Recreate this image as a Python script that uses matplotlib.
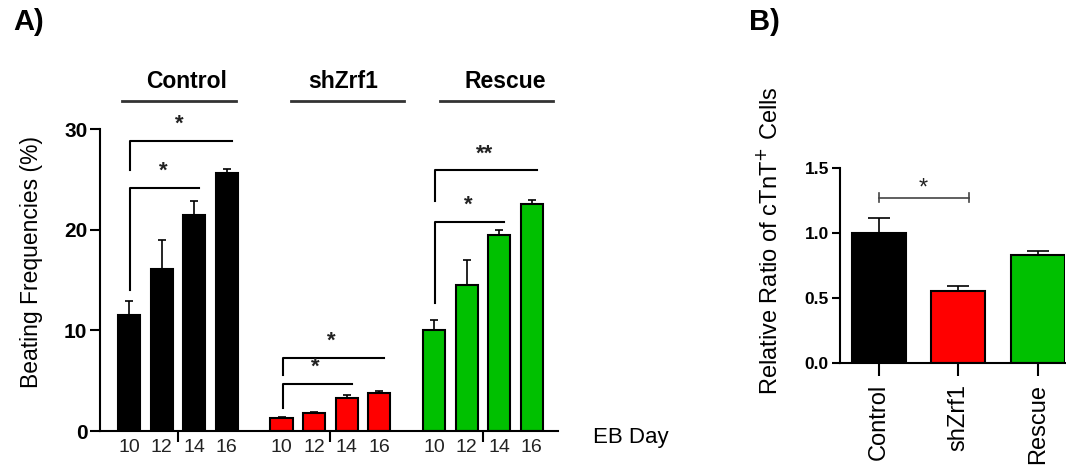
import numpy as np
import matplotlib
matplotlib.use('Agg')
import matplotlib.pyplot as plt

plt.rcParams['font.family'] = ['Liberation Sans', 'DejaVu Sans']

# beating frequencies by EB day, per group
groups = ['Control', 'shZrf1', 'Rescue']
days = ['10', '12', '14', '16']
beating = {
    'Control': [11.5, 16.1, 21.5, 25.6],
    'shZrf1': [1.3, 1.8, 3.3, 3.8],
    'Rescue': [10.0, 14.5, 19.5, 22.6],
}
beating_err = {
    'Control': [1.4, 2.9, 1.4, 0.4],
    'shZrf1': [0.1, 0.1, 0.3, 0.2],
    'Rescue': [1.0, 2.5, 0.5, 0.4],
}
# significance brackets: (group, bar_from, bar_to, height, drop_to, label)
brackets_a = [
    ('Control', 0, 3, 28.8, 25.9, '*'),
    ('Control', 0, 2, 24.2, 14.0, '*'),
    ('shZrf1', 0, 3, 7.25, 5.6, '*'),
    ('shZrf1', 0, 2, 4.7, 2.3, '*'),
    ('Rescue', 0, 3, 25.9, 22.9, '**'),
    ('Rescue', 0, 2, 20.8, 12.7, '*'),
]

# relative cTnT+ ratio
ratio = [1.0, 0.55, 0.83]
ratio_err = [0.115, 0.045, 0.03]

colors = {'Control': 'black', 'shZrf1': '#ff0000', 'Rescue': '#00c000'}
# header label x and underline span, in bar units from the group's first bar
header_pos = {
    'Control': (1.78, -0.22, 3.28),
    'shZrf1': (1.9, 0.28, 3.75),
    'Rescue': (2.18, 0.18, 3.66),
}

fig = plt.figure(figsize=(10.66, 4.68), dpi=100)

# ---- panel A ----
ax = fig.add_axes([0.0938, 0.079, 0.4296, 0.645])
gap = 4.68
width = 0.68
centers = []
for gi, g in enumerate(groups):
    xs = np.arange(4) + gi * gap
    ax.bar(xs, beating[g], width, color=colors[g], edgecolor='black',
           linewidth=1.5, zorder=2)
    ax.errorbar(xs, beating[g], yerr=[np.zeros(4), beating_err[g]],
                fmt='none', ecolor='black', elinewidth=1.2, capsize=3,
                capthick=1.2, zorder=1)
    centers.append(xs.mean())
    for x, d in zip(xs, days):
        ax.text(x, -0.8, d, ha='center', va='top', fontsize=14,
                color='#222222')
    # group header with underline
    hx, l0, l1 = header_pos[g]
    ax.text(xs[0] + hx, 34.7, g, ha='center', va='center',
            fontsize=16.5, fontweight='bold', clip_on=False)
    ax.plot([xs[0] + l0, xs[0] + l1], [32.8, 32.8], color='#333333',
            lw=2, clip_on=False)

for g, i0, i1, h, low, lab in brackets_a:
    off = groups.index(g) * gap
    x0 = i0 + off + 0.03
    x1 = i1 + off + 0.15
    ax.plot([x0, x0, x1], [low, h, h], color='black', lw=1.5,
            clip_on=False, zorder=3)
    ax.text((x0 + x1) / 2 - 0.05, h + 0.6, lab, ha='center', va='bottom',
            fontsize=16, fontweight='bold', color='#222222')

ax.set_xlim(-0.89, 2 * gap + 3.8)
ax.set_ylim(0, 30)
ax.set_yticks([0, 10, 20, 30])
ax.set_yticklabels(['0', '10', '20', '30'], fontsize=15, fontweight='bold')
ax.set_xticks(centers)
ax.set_xticklabels([])
ax.tick_params(axis='x', direction='out', length=8, width=1.5)
ax.tick_params(axis='y', direction='out', length=7, width=1.5, pad=2)
for s in ['top', 'right']:
    ax.spines[s].set_visible(False)
for s in ['left', 'bottom']:
    ax.spines[s].set_linewidth(1.5)
ax.set_ylabel('Beating Frequencies (%)', fontsize=16.5)
ax.yaxis.set_label_coords(-0.124, 0.56)
ax.text(1.076, -0.02, 'EB Day', transform=ax.transAxes, fontsize=16,
        ha='left', va='center')

fig.text(0.012, 0.953, 'A)', fontsize=21, fontweight='bold', va='center')
fig.text(0.703, 0.953, 'B)', fontsize=21, fontweight='bold', va='center')

# ---- panel B ----
bx = fig.add_axes([0.788, 0.2244, 0.211, 0.4167])
xb = np.arange(len(groups))
bx.bar(xb, ratio, 0.68, color=[colors[g] for g in groups],
       edgecolor='black', linewidth=1.5, zorder=2)
bx.errorbar(xb, ratio, yerr=[np.zeros(3), ratio_err], fmt='none',
            ecolor='black', elinewidth=1.2, capsize=8, capthick=1.2,
            zorder=1)
bx.plot([0, 1.13], [1.27, 1.27], color='#444444', lw=1.2)
for x in [0, 1.13]:
    bx.plot([x, x], [1.235, 1.305], color='#444444', lw=1.2)
bx.text(0.56, 1.255, '*', ha='center', va='bottom', fontsize=17,
        color='#222222')
bx.set_xlim(-0.49, 2.34)
bx.set_ylim(0, 1.5)
bx.set_yticks([0, 0.5, 1.0, 1.5])
bx.set_yticklabels(['0.0', '0.5', '1.0', '1.5'], fontsize=12.5,
                   fontweight='bold')
bx.set_xticks(xb)
bx.set_xticklabels(groups, rotation=90, fontsize=17)
bx.tick_params(axis='x', direction='out', length=9, width=1.5, pad=6)
bx.tick_params(axis='y', direction='out', length=6, width=1.5, pad=2)
for s in ['top', 'right']:
    bx.spines[s].set_visible(False)
for s in ['left', 'bottom']:
    bx.spines[s].set_linewidth(1.5)
bx.set_ylabel('Relative Ratio of cTnT$^{+}$ Cells', fontsize=17)
bx.yaxis.set_label_coords(-0.258, 0.626)

fig.savefig('out.png', dpi=100)
